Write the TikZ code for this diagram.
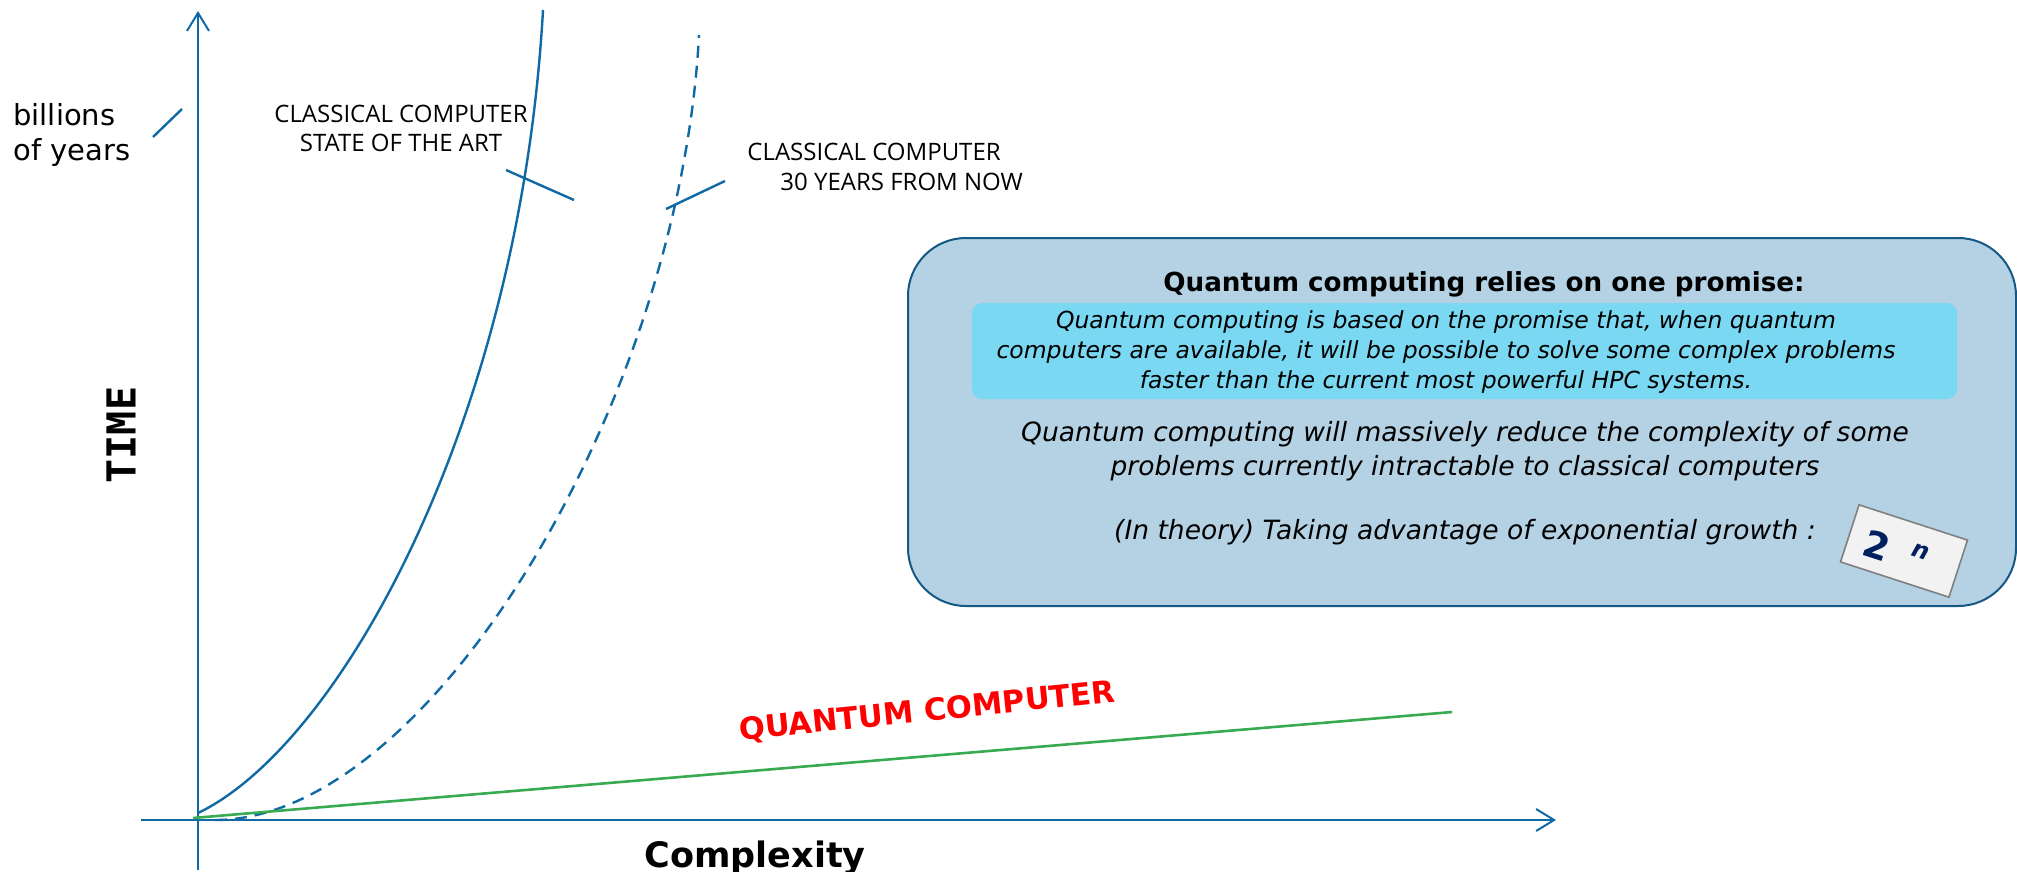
\documentclass[tikz,border=0pt]{standalone}
\usepackage{fontspec}
\setmainfont{DejaVu Sans}
\newfontfamily\labelfont{Open Sans}
\newfontfamily\monofont{DejaVu Sans Mono}
\usepackage{tikz}
\usetikzlibrary{arrows.meta, positioning, calc}

\definecolor{axisblue}{RGB}{14,105,165}
\definecolor{qgreen}{RGB}{56,170,82}
\definecolor{boxfill}{RGB}{180,210,227}
\definecolor{boxedge}{RGB}{22,88,132}
\definecolor{cyanfill}{RGB}{122,216,242}
\definecolor{cardfill}{RGB}{242,242,242}
\definecolor{cardedge}{RGB}{128,128,128}
\definecolor{navy}{RGB}{0,32,96}

\tikzset{axisline/.style={draw=axisblue, line width=1pt, -{Straight Barb[length=9pt,width=11pt,line width=1pt]}}}
\tikzset{curve/.style={draw=axisblue, line width=1.2pt}}
\tikzset{ticks/.style={draw=axisblue, line width=1.2pt}}
\tikzset{label/.style={inner sep=0pt, font=\labelfont\fontsize{12pt}{14.5pt}\selectfont}}
\tikzset{promisebox/.style={rectangle, draw=boxedge, fill=boxfill, line width=1pt, rounded corners=29pt}}
\tikzset{cyanbox/.style={rectangle, fill=cyanfill, rounded corners=5pt}}
\tikzset{bodytext/.style={inner sep=0pt, align=center, font=\itshape\fontsize{13.25pt}{17pt}\selectfont}}

\begin{document}
\begin{tikzpicture}[x=0.5pt, y=-0.5pt]
		\useasboundingbox (0,0) rectangle (2017,872);

		% axes
		\coordinate (ybot) at (198,870);
		\coordinate (ytop) at (198,11);
		\coordinate (xleft) at (141,820);
		\coordinate (xright) at (1556,820);
		\draw[axisline] (ybot) -- (ytop);
		\draw[axisline] (xleft) -- (xright);

		\node[inner sep=0pt, rotate=90, font=\monofont\bfseries\fontsize{20pt}{24pt}\selectfont] (time) at (121,435) {TIME};
		\node[inner sep=0pt, anchor=base, font=\bfseries\fontsize{17.5pt}{20pt}\selectfont] (complexity) at (755,867) {Complexity};
		\node[inner sep=0pt, anchor=base west, align=left, font=\fontsize{14.5pt}{17.5pt}\selectfont] (billions) at (13,161) {billions\\of years};
		\draw[ticks] (153,137) -- (182,109);

		% classical curves
		\coordinate (start) at (198,813);
		\coordinate (later) at (215,820);
		\draw[curve] (start) .. controls (340,745) and (520,420) .. (543,10);
		\draw[curve, dash pattern=on 6pt off 4pt] (later) .. controls (430,820) and (680,400) .. (699,35);

		\node[label, anchor=base, align=center] (sota) at (401,151) {CLASSICAL COMPUTER\\STATE OF THE ART};
		\draw[ticks] (506,170) -- (574,200);
		\node[label, anchor=base west, align=left] (future) at (747,190) {CLASSICAL COMPUTER\\\hspace*{16.5pt}30 YEARS FROM NOW};
		\draw[ticks] (666,209) -- (725,181);

		% quantum line
		\draw[draw=qgreen, line width=1.3pt] (193,818) -- (1452,712);
		\node[inner sep=0pt, anchor=base, rotate=5.85, text=red, font=\bfseries\fontsize{15.3pt}{18pt}\selectfont] (quantum) at (928,721) {QUANTUM COMPUTER};

		% promise box
		\node[promisebox, minimum width=554pt, minimum height=184pt] (promise) at (1462,422) {};
		\node[cyanbox, minimum width=492.5pt, minimum height=48pt] (basis) at (1464.5,351) {};
		\node[inner sep=0pt, anchor=base, font=\bfseries\fontsize{13.1pt}{16pt}\selectfont] (title) at (1484,291) {Quantum computing relies on one promise:};
		\node[inner sep=0pt, anchor=base, align=center, font=\itshape\fontsize{11.75pt}{15pt}\selectfont] (basistext) at (1446,388) {Quantum computing is based on the promise that, when quantum\\computers are available, it will be possible to solve some complex problems\\faster than the current most powerful HPC systems.};
		\node[bodytext, anchor=base] (reduce) at (1465,475) {Quantum computing will massively reduce the complexity of some\\problems currently intractable to classical computers};
		\node[bodytext, anchor=base] (growth) at (1465,539) {(In theory) Taking advantage of exponential growth :};

		\node[rectangle, rotate=-18, draw=cardedge, fill=cardfill, line width=0.8pt, minimum width=57pt, minimum height=30pt] (card) at (1904,551) {};
		\node[inner sep=0pt, rotate=-18, text=navy, font=\bfseries\fontsize{18.5pt}{20pt}\selectfont] (two) at (1877,545) {2};
		\node[inner sep=0pt, rotate=-18, text=navy, font=\bfseries\itshape\fontsize{12pt}{14pt}\selectfont] (exp) at (1921,552) {n};
\end{tikzpicture}
\end{document}
